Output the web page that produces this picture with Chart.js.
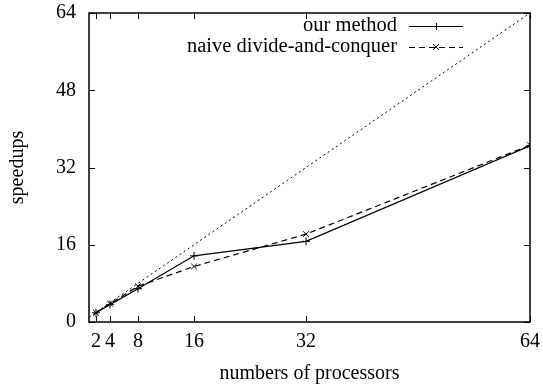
<!DOCTYPE html>
<html><head><meta charset="utf-8">
<script src="https://cdn.jsdelivr.net/npm/chart.js@4/dist/chart.umd.min.js"></script>
<style>html,body{margin:0;padding:0;background:#fff}#wrap{width:543px;height:389px}</style>
</head><body><div id="wrap"><canvas id="c" width="543" height="389"></canvas></div>
<script>
const processors = [2, 4, 8, 16, 32, 64];
const ourMethod = [1.9, 3.6, 6.9, 13.7, 16.7, 36.5];
const naiveDC = [1.9, 3.8, 7.4, 11.5, 18.2, 36.6];
const idealX = [1, 64];
const idealY = [1, 64];
const xTicks = [2, 4, 8, 16, 32, 64];
const yTicks = [0, 16, 32, 48, 64];
const seriesNames = ['our method', 'naive divide-and-conquer'];
const xTitle = 'numbers of processors';
const yTitle = 'speedups';

const FONT = '"Liberation Serif", "Times New Roman", serif';
const pts = (xs, ys) => xs.map((x, i) => ({x: x, y: ys[i]}));

const framePlugin = {
  id: 'frame',
  afterDatasetsDraw(chart) {
    const ctx = chart.ctx, a = chart.chartArea;
    const xs = chart.scales.x, ys = chart.scales.y;
    ctx.save();
    ctx.strokeStyle = '#000';
    ctx.lineWidth = 1.5;
    ctx.strokeRect(a.left, a.top, a.right - a.left, a.bottom - a.top);
    ctx.lineWidth = 1;
    const L = 6;
    ctx.beginPath();
    xTicks.forEach(v => {
      const px = Math.round(xs.getPixelForValue(v)) + 0.5;
      ctx.moveTo(px, a.bottom); ctx.lineTo(px, a.bottom - L);
      ctx.moveTo(px, a.top); ctx.lineTo(px, a.top + L);
    });
    yTicks.forEach(v => {
      const py = Math.round(ys.getPixelForValue(v)) + 0.5;
      ctx.moveTo(a.left, py); ctx.lineTo(a.left + L, py);
      ctx.moveTo(a.right, py); ctx.lineTo(a.right - L, py);
    });
    ctx.stroke();
    // legend
    ctx.font = '20.5px ' + FONT;
    ctx.fillStyle = '#000';
    ctx.textAlign = 'right';
    ctx.textBaseline = 'middle';
    const rows = [26, 47];
    const tx = 397, sx0 = 409, sx1 = 463, mx = (sx0 + sx1) / 2;
    const dashes = [[], [6, 4]];
    rows.forEach((ry, i) => {
      ctx.fillText(seriesNames[i], tx, ry);
      ctx.setLineDash(dashes[i]);
      ctx.beginPath(); ctx.moveTo(sx0, ry + 0.5); ctx.lineTo(sx1, ry + 0.5); ctx.stroke();
      ctx.setLineDash([]);
      ctx.beginPath();
      if (i === 0) {
        ctx.moveTo(mx - 3.5, ry + 0.5); ctx.lineTo(mx + 3.5, ry + 0.5);
        ctx.moveTo(mx + 0.5, ry - 3); ctx.lineTo(mx + 0.5, ry + 4);
      } else {
        ctx.moveTo(mx - 3, ry - 3); ctx.lineTo(mx + 3, ry + 3);
        ctx.moveTo(mx + 3, ry - 3); ctx.lineTo(mx - 3, ry + 3);
      }
      ctx.stroke();
    });
    ctx.restore();
  }
};

const zeroPad = s => { s.paddingTop = 0; s.paddingBottom = 0; s.paddingLeft = 0; s.paddingRight = 0; };

new Chart(document.getElementById('c'), {
  type: 'scatter',
  data: {
    datasets: [
      {label: seriesNames[0], data: pts(processors, ourMethod), showLine: true,
       borderColor: '#000', backgroundColor: '#000', borderWidth: 1.2,
       pointStyle: 'cross', pointRadius: 4, pointBorderWidth: 1},
      {label: seriesNames[1], data: pts(processors, naiveDC), showLine: true,
       borderColor: '#000', backgroundColor: '#000', borderWidth: 1.2, borderDash: [6, 4],
       pointStyle: 'crossRot', pointRadius: 4, pointBorderWidth: 1},
      {label: 'ideal', data: pts(idealX, idealY), showLine: true,
       borderColor: '#000', borderWidth: 1, borderDash: [2, 3], pointRadius: 0}
    ]
  },
  options: {
    responsive: false,
    animation: false,
    layout: {padding: {left: 0, top: 13, right: 13, bottom: 0}},
    plugins: {legend: {display: false}, tooltip: {enabled: false}},
    scales: {
      x: {
        type: 'linear', min: 1, max: 64,
        afterBuildTicks: s => { s.ticks = xTicks.map(v => ({value: v})); },
        afterFit: s => { s.height = 67; zeroPad(s); },
        grid: {display: false, drawTicks: false},
        border: {display: false},
        ticks: {color: '#000', font: {family: FONT, size: 20}, padding: 8, maxRotation: 0, autoSkip: false},
        title: {display: true, text: xTitle, color: '#000', font: {family: FONT, size: 20}, padding: {top: 0, bottom: 3}}
      },
      y: {
        type: 'linear', min: 0, max: 64,
        afterBuildTicks: s => { s.ticks = yTicks.map(v => ({value: v})); },
        afterFit: s => { s.width = 89; zeroPad(s); },
        grid: {display: false, drawTicks: false},
        border: {display: false},
        ticks: {color: '#000', font: {family: FONT, size: 20}, padding: 13},
        title: {display: true, text: yTitle, color: '#000', font: {family: FONT, size: 20}, padding: {top: 6, bottom: 0}}
      }
    }
  },
  plugins: [framePlugin]
});
</script></body></html>
